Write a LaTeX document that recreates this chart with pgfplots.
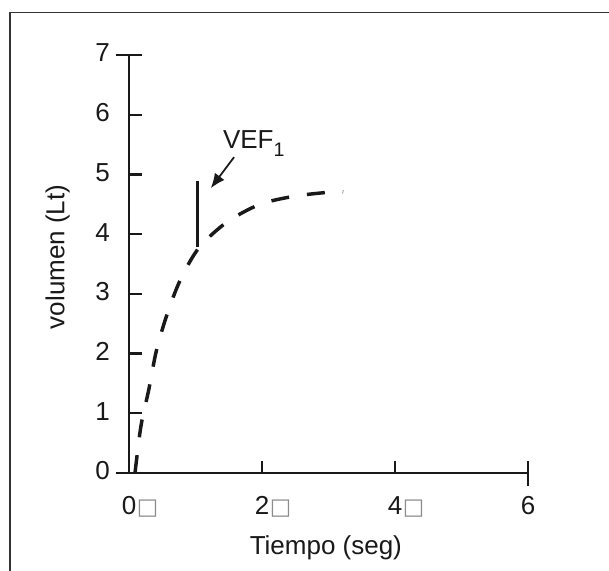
\documentclass[border=0pt]{standalone}
\usepackage{pgfplots}
\pgfplotsset{compat=1.18}
\usepackage{fontspec}
\setmainfont{Liberation Sans}
\newfontfamily\symfont{DejaVu Sans}
\usetikzlibrary{arrows.meta}

% missing-glyph boxes that follow the tick numbers
\newcommand{\tofu}{\rlap{\hspace{0.5pt}\textcolor{black!45}{\symfont\fontsize{17}{18}\selectfont □}}}
\newcommand{\chartfont}{\fontsize{19.5}{23}\selectfont}

\begin{document}
\begin{tikzpicture}[font=\chartfont]
\begin{axis}[
    scale only axis,
    width=299.25pt, height=313.5pt,
    xmin=0, xmax=6, ymin=0, ymax=7,
    clip=false,
    axis x line=bottom, axis y line=left,
    axis line style={-, line width=1.7pt, black!90},
    x axis line style={shorten <=-9.75pt},
    tick align=inside,
    major tick length=9.4pt,
    tick style={line width=1.7pt, black!90},
    xtick={0,2,4,6}, xticklabels={0\tofu,2\tofu,4\tofu,6},
    ytick={0,1,2,3,4,5,6,7}, yticklabels={0,1,2,3,4,5,6,7},
    extra x ticks={6}, extra x tick labels={},
    extra y ticks={7}, extra y tick labels={},
    extra tick style={tick align=outside},
    tick label style={font=\chartfont, black!90},
    xticklabel style={anchor=north, inner sep=0pt, yshift=-17.25pt},
    yticklabel style={anchor=east, inner sep=0pt, xshift=-14.25pt, yshift=1.5pt},
]
% forced expiratory curve
\addplot[black!90, line width=2.6pt, dash pattern=on 13.5pt off 13.5pt, smooth, tension=0.5]
  coordinates {
    (0.09,0.00) (0.18,0.79) (0.30,1.41) (0.41,2.04) (0.57,2.65)
    (0.77,3.23) (1.05,3.77) (1.47,4.20) (1.97,4.50) (2.51,4.64)
    (3.08,4.71) (3.22,4.71)
  };
% VEF1 marker
\addplot[black!90, line width=2pt] coordinates {(1.03,3.78) (1.03,4.89)};
\addplot[black!90, line width=1.3pt, -{Latex[length=11pt, width=9pt]}]
  coordinates {(1.58,5.29) (1.23,4.77)};
\node[anchor=base west, inner sep=0pt, black!90] at (axis cs:1.41,5.44)
  {VEF\raisebox{-6pt}{\fontsize{14.7}{15}\selectfont 1}};
% axis titles
\node[anchor=north, inner sep=0pt, black!90] at (axis cs:2.96,-1.04) {Tiempo (seg)};
\node[rotate=90, anchor=south, inner sep=0pt, black!90] at (axis cs:-0.887,3.62) {volumen (Lt)};
% outer frame
\draw[line width=0.8pt, black!80] (axis cs:-1.79,-3) -- (axis cs:-1.79,7.72) -- (axis cs:9,7.72);
\coordinate (bl) at (axis cs:-1.940,-1.6245);
\coordinate (tr) at (axis cs:7.218,7.922);
\end{axis}
\pgfresetboundingbox
\path[use as bounding box] (bl) rectangle (tr);
\end{tikzpicture}
\end{document}
